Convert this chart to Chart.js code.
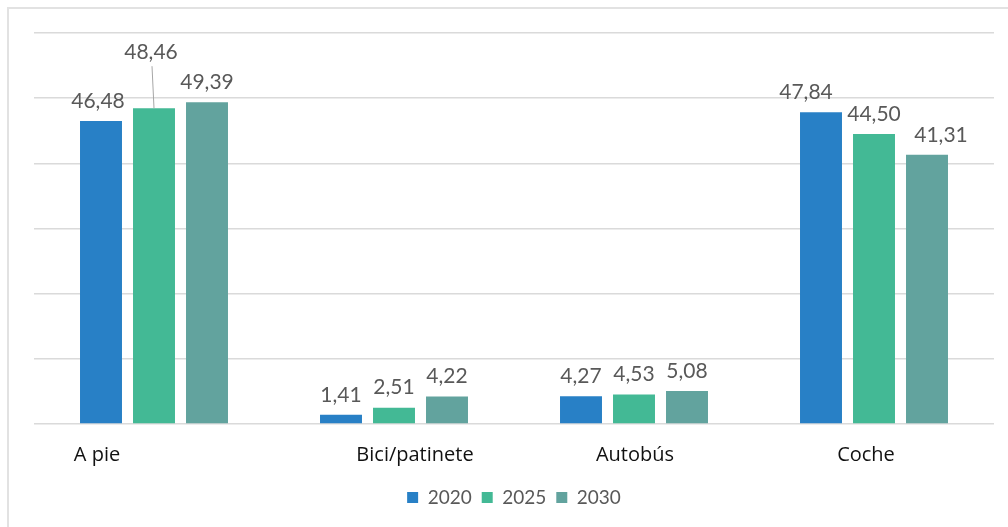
<!DOCTYPE html>
<html>
<head>
<meta charset="utf-8">
<script src="https://cdn.jsdelivr.net/npm/chart.js@4.4.1/dist/chart.umd.min.js"></script>
<style>
  html, body { margin: 0; padding: 0; background: #fff; }
  #wrap { position: relative; width: 1008px; height: 527px; }
</style>
</head>
<body>
<div id="wrap"><canvas id="myChart"></canvas></div>
<script>
var categories = ['A pie', 'Bici/patinete', 'Autobús', 'Coche'];
var years = ['2020', '2025', '2030'];
var values2020 = [46.48, 1.41, 4.27, 47.84];
var values2025 = [48.46, 2.51, 4.53, 44.50];
var values2030 = [49.39, 4.22, 5.08, 41.31];
var yMax = 60;
var yStep = 10;

var colors = ['#2880c6', '#43b995', '#62a39e'];

// small hand nudges, the source places some labels off-centre
var categoryNudge = [-57, 21, 1, -8];
var valueNudge = { '0,0': [-3, 0], '1,0': [-3, -36, true], '0,3': [-15, 0], '2,3': [14, 0] };

function formatValue(v) {
  return v.toFixed(2).replace('.', ',');
}

var framePlugin = {
  id: 'frame',
  beforeDraw: function (chart) {
    var ctx = chart.ctx;
    ctx.save();
    ctx.strokeStyle = '#e2e2e2';
    ctx.lineWidth = 2;
    ctx.beginPath();
    ctx.moveTo(8, chart.height);
    ctx.lineTo(8, 8);
    ctx.lineTo(chart.width, 8);
    ctx.stroke();
    ctx.restore();
  }
};

var labelsPlugin = {
  id: 'labels',
  afterDatasetsDraw: function (chart) {
    var ctx = chart.ctx;
    ctx.save();
    ctx.font = '21px Lato';
    ctx.fillStyle = '#595959';
    ctx.textAlign = 'center';
    ctx.textBaseline = 'middle';
    chart.data.datasets.forEach(function (ds, d) {
      chart.getDatasetMeta(d).data.forEach(function (bar, i) {
        var n = valueNudge[d + ',' + i] || [0, 0];
        var x = bar.x + n[0];
        var y = bar.y - 20 + n[1];
        ctx.fillText(formatValue(ds.data[i]), x, y);
        if (n[2]) {
          // leader line down to the bar
          ctx.strokeStyle = '#a6a6a6';
          ctx.lineWidth = 1;
          ctx.beginPath();
          ctx.moveTo(x + 1, y + 14);
          ctx.lineTo(bar.x, bar.y);
          ctx.stroke();
        }
      });
    });

    // category names under the axis
    var xs = chart.scales.x;
    ctx.font = '20px "Open Sans"';
    ctx.fillStyle = '#111111';
    categories.forEach(function (c, i) {
      ctx.fillText(c, xs.getPixelForValue(i) + categoryNudge[i], chart.chartArea.bottom + 31);
    });
    ctx.restore();
  }
};

var ctx = document.getElementById('myChart').getContext('2d');
var chart = new Chart(ctx, {
  type: 'bar',
  data: {
    labels: categories,
    datasets: [
      { label: years[0], data: values2020, backgroundColor: colors[0] },
      { label: years[1], data: values2025, backgroundColor: colors[1] },
      { label: years[2], data: values2030, backgroundColor: colors[2] }
    ]
  },
  options: {
    responsive: true,
    maintainAspectRatio: false,
    animation: false,
    datasets: {
      bar: { barPercentage: 0.792, categoryPercentage: 0.6625 }
    },
    layout: { padding: { left: 34, right: 14, top: 33, bottom: 10 } },
    scales: {
      x: {
        grid: { display: false },
        border: { display: false },
        ticks: { display: false },
        afterFit: function (s) { s.height = 54; }
      },
      y: {
        min: 0,
        max: yMax,
        ticks: { display: false, stepSize: yStep },
        border: { display: false },
        grid: { color: '#dadada', lineWidth: 1.5, drawTicks: false },
        afterFit: function (s) { s.width = 0; }
      }
    },
    plugins: {
      legend: {
        position: 'bottom',
        labels: {
          boxWidth: 11,
          boxHeight: 11,
          padding: 10,
          color: '#595959',
          font: { family: 'Lato', size: 19 }
        }
      },
      tooltip: { enabled: false }
    }
  },
  plugins: [framePlugin, labelsPlugin]
});
</script>
</body>
</html>
